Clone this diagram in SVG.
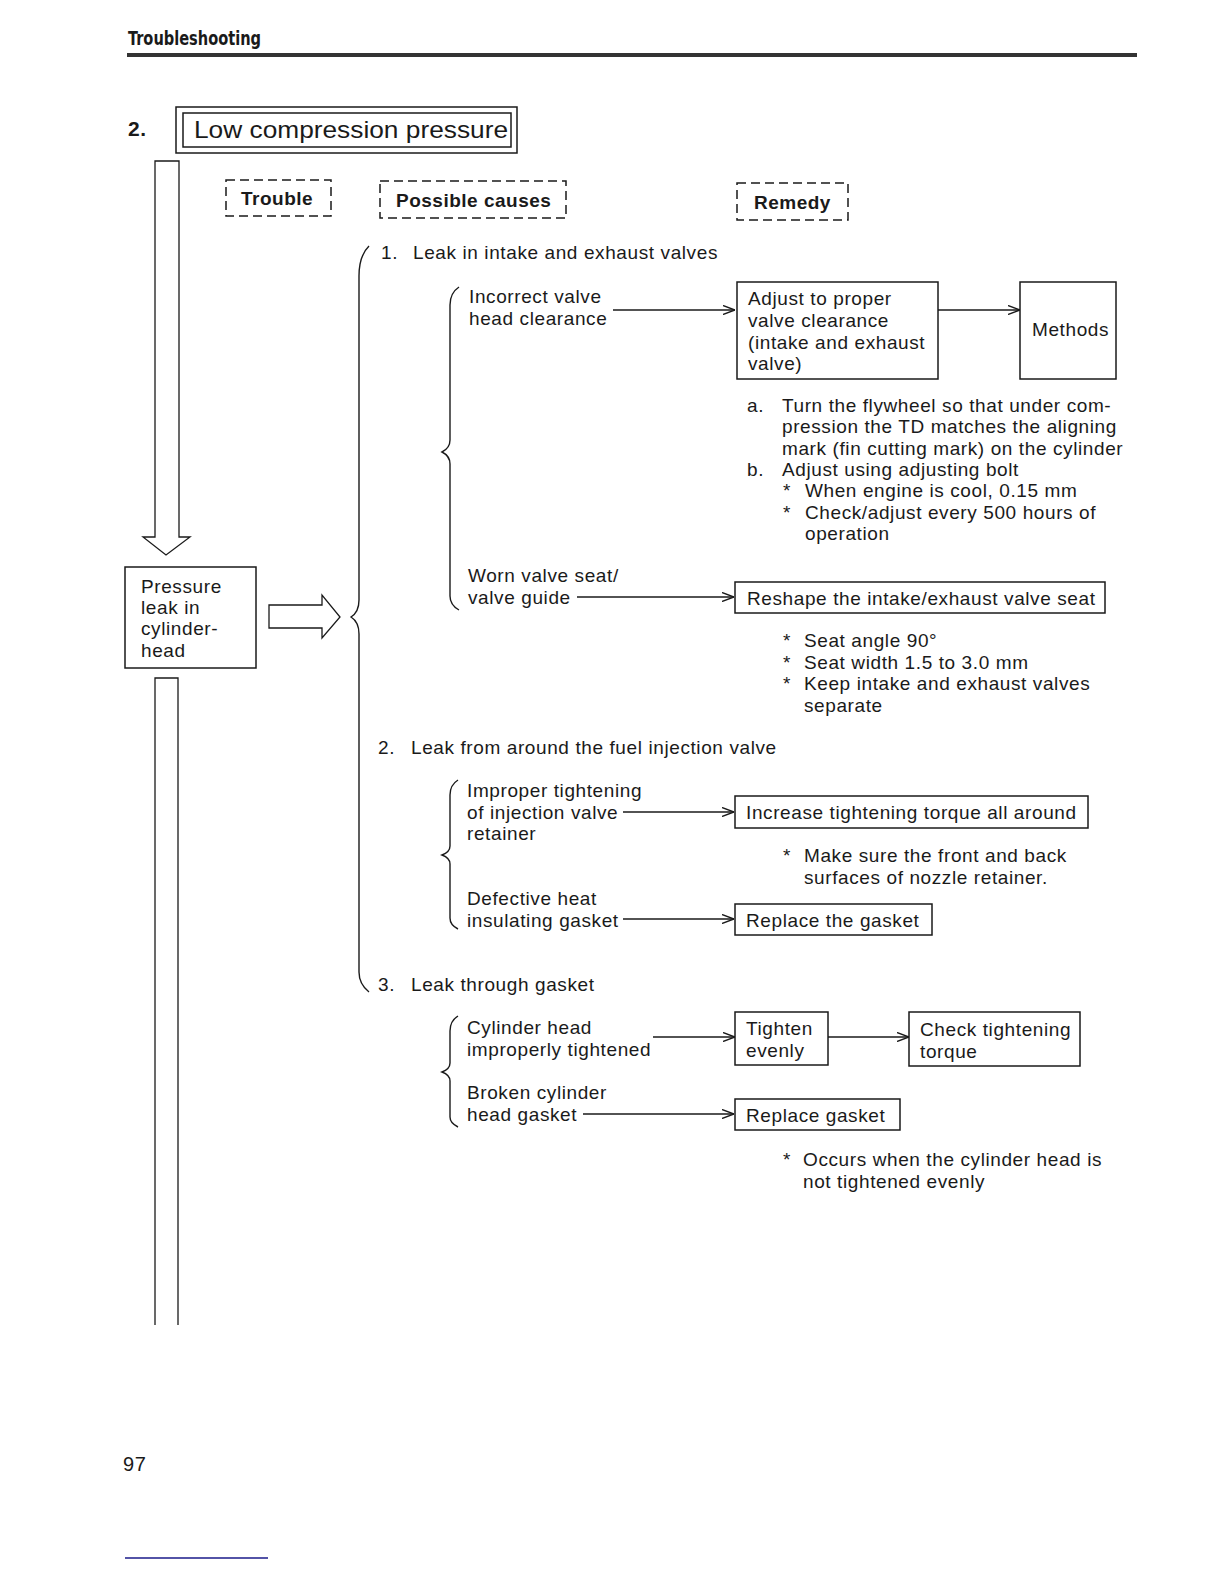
<svg xmlns="http://www.w3.org/2000/svg" width="1224" height="1584" viewBox="0 0 1224 1584">
<defs>
<marker id="arr" viewBox="0 0 12 10" refX="12" refY="5" markerWidth="12" markerHeight="10" markerUnits="userSpaceOnUse" orient="auto">
<path d="M0,0.5 L12,5 L0,9.5" fill="none" stroke="#1a1a1a" stroke-width="1.4"/>
</marker>
</defs>
<style>
text{font-family:"Liberation Sans",Arial,sans-serif;font-size:19px;fill:#1a1a1a;letter-spacing:0.6px}
.b{font-weight:bold;letter-spacing:0.5px}
.box{fill:none;stroke:#1a1a1a;stroke-width:1.5}
.dash{fill:none;stroke:#1a1a1a;stroke-width:1.5;stroke-dasharray:9,5}
.ln{fill:none;stroke:#1a1a1a;stroke-width:1.3}
.br{fill:none;stroke:#1a1a1a;stroke-width:1.4}
</style>
<rect width="1224" height="1584" fill="#fff"/>

<g id="header">
<text x="128" y="45" class="b" style="font-family:'DejaVu Sans Condensed','Liberation Sans',sans-serif;font-size:19px;letter-spacing:0" textLength="133" lengthAdjust="spacingAndGlyphs">Troubleshooting</text>
<rect x="127" y="53" width="1010" height="4" fill="#333"/>
</g>

<g id="title">
<text x="128" y="136" class="b" style="font-size:21px">2.</text>
<rect class="box" x="176" y="107" width="341" height="46"/>
<rect class="box" x="183" y="113" width="328" height="34"/>
<text x="194" y="138" style="font-size:24px;letter-spacing:0" textLength="314" lengthAdjust="spacingAndGlyphs">Low compression pressure</text>
</g>

<g id="col-trouble">
<rect class="dash" x="226" y="180" width="105" height="36"/>
<text x="241" y="205" class="b">Trouble</text>
</g>
<g id="col-causes">
<rect class="dash" x="380" y="181" width="186" height="37"/>
<text x="396" y="207" class="b">Possible causes</text>
</g>
<g id="col-remedy">
<rect class="dash" x="737" y="183" width="111" height="37"/>
<text x="754" y="209" class="b">Remedy</text>
</g>

<g id="flow-arrow">
<path class="ln" d="M155,537 L155,161 L179,161 L179,537 L190,537 L166,555 L143,537 Z"/>
<path class="ln" d="M155,1325 L155,678 L178,678 L178,1325"/>
<path class="ln" d="M269,605 L322,605 L322,595 L340,617 L322,638 L322,628 L269,628 Z"/>
</g>

<g id="trouble-node">
<rect class="box" x="125" y="567" width="131" height="101"/>
<text x="141" y="593">Pressure</text>
<text x="141" y="614">leak in</text>
<text x="141" y="635">cylinder-</text>
<text x="141" y="657">head</text>
</g>

<g id="braces">
<path class="br" d="M369,246 Q359,256 359,276 L359,600 Q359,612 351,617 Q359,622 359,634 L359,972 Q359,984 369,992"/>
<path class="br" d="M459,287 Q450,293 450,305 L450,440 Q450,448 442,452 Q450,456 450,464 L450,596 Q450,605 459,610"/>
<path class="br" d="M458,780 Q450,785 450,795 L450,846 Q450,852 442,855 Q450,858 450,864 L450,918 Q450,925 458,929"/>
<path class="br" d="M458,1016 Q450,1021 450,1031 L450,1063 Q450,1069 442,1072 Q450,1075 450,1081 L450,1117 Q450,1123 458,1127"/>
</g>

<g id="cause-1">
<text x="381" y="259">1.</text>
<text x="413" y="259">Leak in intake and exhaust valves</text>
</g>
<g id="cause-1a">
<text x="469" y="303">Incorrect valve</text>
<text x="469" y="325">head clearance</text>
</g>
<g id="remedy-1a">
<rect class="box" x="737" y="282" width="201" height="97"/>
<text x="748" y="305">Adjust to proper</text>
<text x="748" y="327">valve clearance</text>
<text x="748" y="349">(intake and exhaust</text>
<text x="748" y="370">valve)</text>
</g>
<g id="methods">
<rect class="box" x="1020" y="282" width="96" height="97"/>
<text x="1032" y="336">Methods</text>
</g>
<g id="methods-notes">
<text x="747" y="412">a.</text>
<text x="782" y="412">Turn the flywheel so that under com-</text>
<text x="782" y="433">pression the TD matches the aligning</text>
<text x="782" y="455">mark (fin cutting mark) on the cylinder</text>
<text x="747" y="476">b.</text>
<text x="782" y="476">Adjust using adjusting bolt</text>
<text x="783" y="497">*</text>
<text x="805" y="497">When engine is cool, 0.15 mm</text>
<text x="783" y="519">*</text>
<text x="805" y="519">Check/adjust every 500 hours of</text>
<text x="805" y="540">operation</text>
</g>

<g id="cause-1b">
<text x="468" y="582">Worn valve seat/</text>
<text x="468" y="604">valve guide</text>
</g>
<g id="remedy-1b">
<rect class="box" x="735" y="582" width="370" height="31"/>
<text x="747" y="605">Reshape the intake/exhaust valve seat</text>
</g>
<g id="remedy-1b-notes">
<text x="783" y="647">*</text><text x="804" y="647">Seat angle 90°</text>
<text x="783" y="669">*</text><text x="804" y="669">Seat width 1.5 to 3.0 mm</text>
<text x="783" y="690">*</text><text x="804" y="690">Keep intake and exhaust valves</text>
<text x="804" y="712">separate</text>
</g>

<g id="cause-2">
<text x="378" y="754">2.</text>
<text x="411" y="754">Leak from around the fuel injection valve</text>
</g>
<g id="cause-2a">
<text x="467" y="797">Improper tightening</text>
<text x="467" y="819">of injection valve</text>
<text x="467" y="840">retainer</text>
</g>
<g id="remedy-2a">
<rect class="box" x="735" y="796" width="353" height="32"/>
<text x="746" y="819">Increase tightening torque all around</text>
</g>
<g id="remedy-2a-notes">
<text x="783" y="862">*</text>
<text x="804" y="862">Make sure the front and back</text>
<text x="804" y="884">surfaces of nozzle retainer.</text>
</g>
<g id="cause-2b">
<text x="467" y="905">Defective heat</text>
<text x="467" y="927">insulating gasket</text>
</g>
<g id="remedy-2b">
<rect class="box" x="735" y="904" width="197" height="31"/>
<text x="746" y="927">Replace the gasket</text>
</g>

<g id="cause-3">
<text x="378" y="991">3.</text>
<text x="411" y="991">Leak through gasket</text>
</g>
<g id="cause-3a">
<text x="467" y="1034">Cylinder head</text>
<text x="467" y="1056">improperly tightened</text>
</g>
<g id="remedy-3a">
<rect class="box" x="735" y="1012" width="93" height="53"/>
<text x="746" y="1035">Tighten</text>
<text x="746" y="1057">evenly</text>
</g>
<g id="remedy-3a-check">
<rect class="box" x="909" y="1012" width="171" height="54"/>
<text x="920" y="1036">Check tightening</text>
<text x="920" y="1058">torque</text>
</g>
<g id="cause-3b">
<text x="467" y="1099">Broken cylinder</text>
<text x="467" y="1121">head gasket</text>
</g>
<g id="remedy-3b">
<rect class="box" x="735" y="1099" width="165" height="31"/>
<text x="746" y="1122">Replace gasket</text>
</g>
<g id="remedy-3-notes">
<text x="783" y="1166">*</text>
<text x="803" y="1166">Occurs when the cylinder head is</text>
<text x="803" y="1188">not tightened evenly</text>
</g>

<g id="connectors">
<line class="ln" x1="613" y1="310" x2="735" y2="310" marker-end="url(#arr)"/>
<line class="ln" x1="938" y1="310" x2="1020" y2="310" marker-end="url(#arr)"/>
<line class="ln" x1="577" y1="597" x2="734" y2="597" marker-end="url(#arr)"/>
<line class="ln" x1="623" y1="812" x2="734" y2="812" marker-end="url(#arr)"/>
<line class="ln" x1="623" y1="919" x2="734" y2="919" marker-end="url(#arr)"/>
<line class="ln" x1="653" y1="1037" x2="735" y2="1037" marker-end="url(#arr)"/>
<line class="ln" x1="828" y1="1037" x2="909" y2="1037" marker-end="url(#arr)"/>
<line class="ln" x1="583" y1="1114" x2="734" y2="1114" marker-end="url(#arr)"/>
</g>

<g id="footer">
<text x="123" y="1471" style="font-size:20px">97</text>
<line x1="125" y1="1558" x2="268" y2="1558" stroke="#1a1a8a" stroke-width="1.5"/>
</g>
</svg>
